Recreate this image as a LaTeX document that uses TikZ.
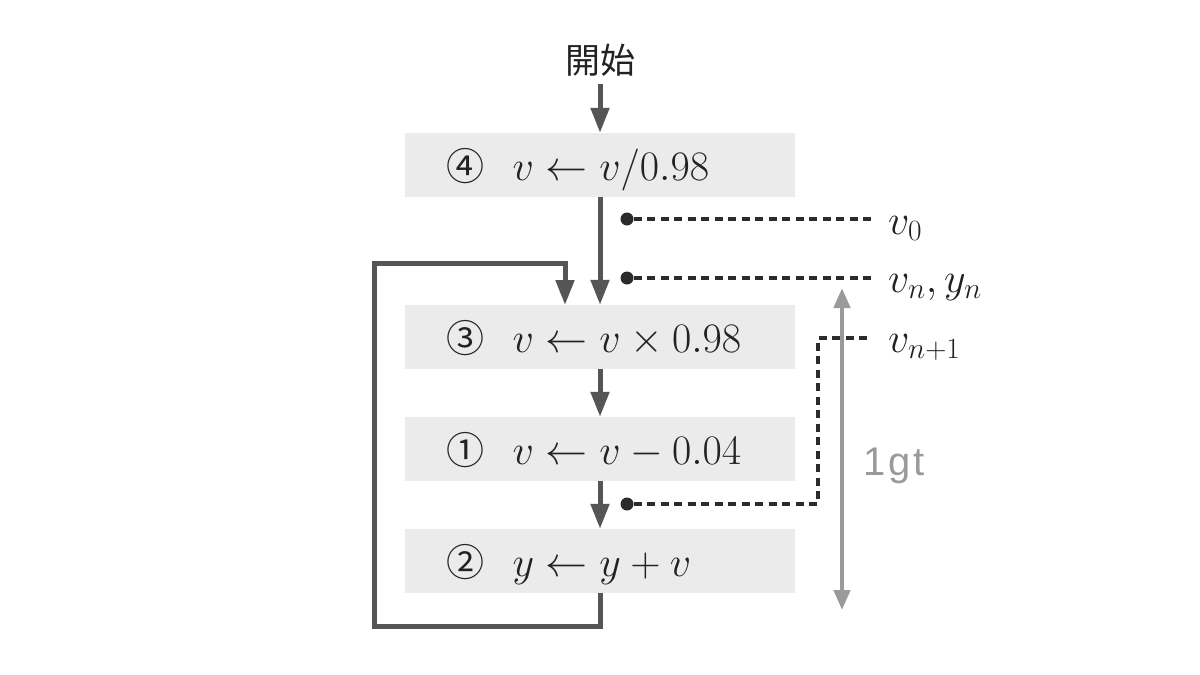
\documentclass[tikz,border=0pt]{standalone}
\usepackage{fix-cm}
\usepackage{fontspec}
\newfontfamily\cjk{Noto Sans CJK JP}
\newfontfamily\gtfont{Liberation Sans}[LetterSpace=6]
\usetikzlibrary{arrows.meta}
\definecolor{boxgray}{HTML}{EBEBEB}
\definecolor{arrgray}{HTML}{555555}
\definecolor{lgray}{HTML}{9A9A9A}
\definecolor{dotc}{HTML}{2B2B2B}
\definecolor{txt}{HTML}{222222}
\newcommand{\circnum}[1]{{\cjk\fontsize{38}{42}\selectfont #1}\hspace{0.68em}}
\tikzset{
  stepbox/.style={fill=boxgray, text=txt, text width=308pt, inner xsep=41pt, inner ysep=0pt,
    minimum height=64pt, text height=35pt, text depth=5pt, align=left,
    font=\fontsize{42}{50}\selectfont},
  flow/.style={draw=arrgray, line width=5pt, -{Triangle[length=25pt,width=18pt]}},
  dsh/.style={draw=dotc, line width=3.5pt, dash pattern=on 8pt off 5.5pt},
  dotnode/.style={circle, fill=dotc, minimum size=13pt, inner sep=0pt},
  lbl/.style={anchor=base west, inner sep=0pt, text=txt, font=\fontsize{42}{50}\selectfont},
  span/.style={draw=lgray, line width=4.5pt, {Triangle[length=20pt,width=16pt]}-{Triangle[length=20pt,width=16pt]}}
}
\begin{document}
\begin{tikzpicture}[x=1pt,y=-1pt]
\useasboundingbox (0,0) rectangle (1200,675);
% start
\node[text=txt, font=\cjk\fontsize{35}{40}\selectfont, inner sep=0pt] (start) at (600,60) {開始};
% boxes
\node[stepbox] (b4) at (600,165) {\circnum{④}$v\leftarrow v/0.98$};
\node[stepbox] (b3) at (600,337) {\circnum{③}$v\leftarrow v\times 0.98$};
\node[stepbox] (b1) at (600,449) {\circnum{①}$v\leftarrow v-0.04$};
\node[stepbox] (b2) at (600,561) {\circnum{②}$y\leftarrow y+v$};
% flow arrows
\draw[flow] ([yshift=-8pt]start.south) -- (b4.north);
\draw[flow] (b4.south) -- (b3.north);
\draw[flow] (b3.south) -- (b1.north);
\draw[flow] (b1.south) -- (b2.north);
% loop
\coordinate (lb) at (374,626);
\coordinate (lt) at (374,263);
\coordinate (lend) at (565,305);
\draw[flow] (b2.south) |- (lb) -- (lt) -| (lend);
% labels
\node[lbl] (l0) at (888,234) {$v_0$};
\node[lbl] (l1) at (888,292) {$v_n, y_n$};
\node[lbl] (l2) at (888,352) {$v_{n+1}$};
% dots and dashed lines
\node[dotnode] (d0) at (627,219) {};
\node[dotnode] (d1) at (627,278) {};
\node[dotnode] (d2) at (627,504) {};
\coordinate (e0) at (872,219);
\coordinate (e1) at (872,278);
\coordinate (e2) at (872,338);
\coordinate (c2) at (818,504);
\draw[dsh] (d0) -- (e0);
\draw[dsh] (d1) -- (e1);
\draw[dsh] (d2) -- (c2) |- (e2);
% span arrow
\coordinate (g1) at (842,288);
\coordinate (g2) at (842,610);
\draw[span] (g1) -- (g2);
\node[text=lgray, font=\gtfont\fontsize{40}{44}\selectfont, inner sep=0pt] (gt) at (894,466) {1gt};
\end{tikzpicture}
\end{document}
